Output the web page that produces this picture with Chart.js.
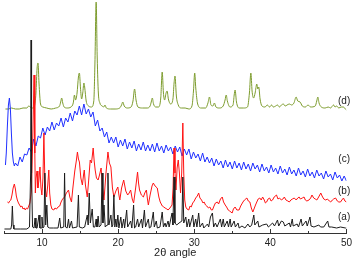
<!DOCTYPE html>
<html>
<head>
<meta charset="utf-8">
<script src="https://cdn.jsdelivr.net/npm/chart.js@4"></script>
<style>
html, body { margin: 0; padding: 0; background: #fff; }
#wrap { width: 356px; height: 260px; position: relative; }
</style>
</head>
<body>
<div id="wrap"><canvas id="xrd"></canvas></div>
<script>
// powder patterns, [2theta (deg), intensity with stacking offset (arb.)]
const traceA = [[5.06,4],[5.9,4],[6.0,8],[6.1,27],[6.2,8],[6.3,4],[7.2,4],[8.0,4],[8.35,6],[8.5,60],[8.56,193],[8.62,60],[8.75,6],[8.95,5],[9.08,15],[9.2,5],[9.35,5],[9.6,18],[9.72,5],[9.9,5],[9.99,16],[10.1,5],[10.25,6],[10.37,60],[10.48,8],[10.63,28],[10.75,6],[11.0,5],[11.5,5],[12.1,5],[12.32,15],[12.45,5],[12.85,6],[12.96,60],[13.08,6],[13.3,5],[13.48,14],[13.6,5],[13.87,12],[14.0,5],[14.6,6],[14.78,38],[14.9,6],[15.3,5],[15.6,6],[15.94,18],[16.06,8],[16.2,40],[16.35,10],[16.59,24],[16.75,6],[16.95,6],[17.11,14],[17.22,6],[17.37,17],[17.5,6],[17.75,8],[17.89,60],[18.0,10],[18.14,28],[18.3,6],[18.55,8],[18.66,60],[18.78,8],[19.05,18],[19.18,6],[19.3,8],[19.44,38],[19.56,6],[19.7,14],[19.82,6],[19.96,18],[20.1,5],[20.35,16],[20.5,5],[20.73,14],[20.85,5],[21.12,23],[21.25,6],[21.64,12],[21.8,5],[22.03,28],[22.15,5],[22.3,6],[22.55,14],[22.7,6],[23.07,14],[23.2,5],[23.45,23],[23.6,6],[23.97,14],[24.1,5],[24.3,6],[24.62,21],[24.75,6],[25.01,12],[25.15,5],[25.5,6],[25.79,21],[25.95,6],[26.17,10],[26.3,6],[26.56,12],[26.7,6],[27.08,20],[27.2,8],[27.34,56],[27.46,10],[27.7,8],[28.0,10],[28.38,12],[28.5,56],[28.62,10],[28.89,16],[29.05,6],[29.28,14],[29.4,6],[29.8,18],[29.95,6],[30.19,14],[30.35,6],[30.58,20],[30.75,6],[31.09,10],[31.25,5],[31.74,9],[31.9,6],[32.13,16],[32.39,20],[32.55,6],[32.78,10],[33.0,6],[33.43,14],[33.6,6],[33.81,14],[33.95,6],[34.33,12],[34.5,6],[34.72,14],[34.85,6],[35.24,12],[35.4,6],[35.76,10],[35.9,5],[36.27,7],[36.66,5],[37.05,9],[37.3,6],[37.55,8],[37.83,18],[37.96,8],[38.35,12],[38.5,6],[38.99,8],[39.51,9],[39.75,6],[40.29,10],[40.55,7],[40.94,13],[41.1,7],[41.45,12],[41.71,11],[41.9,7],[42.49,10],[42.65,6],[42.88,14],[43.0,7],[43.52,9],[43.7,6],[44.04,14],[44.2,7],[44.69,12],[44.85,7],[45.21,16],[45.35,7],[45.73,6],[46.37,8],[46.6,6],[47.02,6],[47.54,12],[47.7,6],[48.06,6],[48.71,5],[49.22,6],[49.87,5],[50,5]];

const traceB = [[5.45,31],[5.6,30],[5.75,32],[5.9,33],[6.05,38],[6.2,45],[6.36,49],[6.5,44],[6.62,37],[6.75,33],[6.9,30],[7.05,28],[7.2,26],[7.35,27],[7.5,24],[7.65,25],[7.8,23],[7.95,25],[8.1,24],[8.25,27],[8.4,30],[8.6,42],[8.8,100],[8.95,158],[9.05,80],[9.12,40],[9.21,55],[9.34,62],[9.45,45],[9.58,52],[9.73,66],[9.85,46],[9.98,38],[10.12,55],[10.24,100],[10.35,60],[10.47,42],[10.6,36],[10.75,48],[10.89,63],[11.0,40],[11.15,28],[11.3,24],[11.54,23],[11.7,25],[11.9,24],[12.1,26],[12.32,27],[12.5,31],[12.7,34],[12.96,36],[13.2,40],[13.48,43],[13.65,36],[13.87,31],[14.05,45],[14.3,62],[14.5,72],[14.65,81],[14.78,74],[14.91,71],[15.1,55],[15.3,48],[15.45,58],[15.55,63],[15.7,48],[15.94,36],[16.1,50],[16.33,73],[16.5,70],[16.72,85],[16.85,72],[16.98,63],[17.15,55],[17.37,53],[17.55,58],[17.76,65],[17.95,45],[18.14,33],[18.4,60],[18.66,81],[18.85,70],[19.05,66],[19.25,45],[19.44,36],[19.7,42],[19.96,46],[20.1,38],[20.22,33],[20.45,45],[20.73,53],[21.0,42],[21.25,38],[21.45,40],[21.64,43],[21.85,34],[22.03,30],[22.3,45],[22.55,61],[22.68,50],[22.81,43],[23.05,38],[23.32,36],[23.5,40],[23.71,43],[23.85,34],[23.97,28],[24.2,38],[24.45,47],[24.62,50],[24.85,47],[25.14,45],[25.35,36],[25.53,31],[25.8,27],[26.0,26],[26.17,25],[26.4,24],[26.56,23],[26.8,25],[27.08,28],[27.22,45],[27.34,85],[27.47,60],[27.6,43],[27.75,65],[27.9,73],[28.05,60],[28.2,40],[28.35,60],[28.5,110],[28.62,60],[28.75,33],[28.89,26],[29.05,24],[29.28,23],[29.45,27],[29.6,26],[29.8,30],[30.0,32],[30.19,35],[30.4,37],[30.58,40],[30.75,35],[30.96,33],[31.15,30],[31.3,31],[31.48,28],[31.65,27],[31.87,25],[32.05,26],[32.25,23],[32.39,23],[32.6,27],[32.78,30],[33.04,31],[33.2,29],[33.45,34],[33.68,36],[33.85,31],[34.07,28],[34.25,26],[34.46,23],[34.65,22],[34.98,20],[35.15,24],[35.37,26],[35.6,23],[35.89,23],[36.1,27],[36.4,31],[36.6,33],[36.92,35],[37.1,32],[37.31,31],[37.5,25],[37.7,21],[37.9,25],[38.05,28],[38.22,31],[38.4,34],[38.61,35],[38.8,33],[38.99,36],[39.2,33],[39.35,30],[39.51,31],[39.7,34],[39.9,35],[40.1,32],[40.29,33],[40.5,36],[40.81,38],[41.0,34],[41.2,35],[41.45,33],[41.65,34],[41.84,36],[42.05,33],[42.3,32],[42.49,31],[42.7,33],[42.9,34],[43.14,35],[43.4,33],[43.6,35],[43.78,36],[43.95,34],[44.2,35],[44.43,36],[44.6,33],[44.8,32],[45.08,33],[45.3,35],[45.47,38],[45.7,35],[45.9,34],[46.11,33],[46.35,36],[46.63,40],[46.8,37],[47.02,34],[47.28,33],[47.5,34],[47.75,32],[47.93,31],[48.15,33],[48.32,34],[48.57,35],[48.8,32],[49.0,31],[49.22,31],[49.4,33],[49.61,35],[49.8,32],[50,31]];

const traceC = [[5.19,68],[5.3,80],[5.45,108],[5.58,128],[5.71,135],[5.84,124],[5.97,100],[6.1,80],[6.23,71],[6.36,67],[6.5,70],[6.8,67],[7.1,76],[7.4,71],[7.7,79],[8.0,78],[8.3,85],[8.6,81],[8.9,94],[9.2,87],[9.5,97],[9.8,95],[10.1,105],[10.4,98],[10.7,106],[11.0,102],[11.3,111],[11.6,103],[11.9,110],[12.2,107],[12.5,115],[12.8,106],[13.1,115],[13.4,111],[13.7,120],[14.0,112],[14.3,122],[14.6,118],[14.9,127],[15.2,118],[15.5,129],[15.8,119],[16.1,124],[16.4,116],[16.7,121],[17.0,107],[17.3,113],[17.6,102],[17.9,105],[18.2,96],[18.5,101],[18.8,90],[19.1,96],[19.4,90],[19.7,96],[20.0,86],[20.3,93],[20.6,87],[20.9,94],[21.2,84],[21.5,91],[21.8,85],[22.1,92],[22.4,82],[22.7,89],[23.0,83],[23.3,91],[23.6,82],[23.9,88],[24.2,82],[24.5,89],[24.8,81],[25.1,90],[25.4,82],[25.7,87],[26.0,80],[26.3,88],[26.6,82],[26.9,86],[27.2,79],[27.5,87],[27.8,81],[28.1,86],[28.4,77],[28.7,84],[29.0,78],[29.3,84],[29.6,74],[29.9,81],[30.2,75],[30.5,79],[30.8,72],[31.1,80],[31.4,71],[31.7,76],[32.0,70],[32.3,75],[32.6,67],[32.9,74],[33.2,68],[33.5,72],[33.8,65],[34.1,73],[34.4,66],[34.7,71],[35.0,64],[35.3,72],[35.6,65],[35.9,70],[36.2,63],[36.5,71],[36.8,64],[37.1,69],[37.4,62],[37.7,70],[38.0,64],[38.3,68],[38.6,61],[38.9,69],[39.2,62],[39.5,66],[39.8,60],[40.1,68],[40.4,61],[40.7,65],[41.0,59],[41.3,67],[41.6,60],[41.9,64],[42.2,58],[42.5,66],[42.8,59],[43.1,63],[43.4,57],[43.7,65],[44.0,58],[44.3,62],[44.6,56],[44.9,64],[45.2,57],[45.5,61],[45.8,55],[46.1,63],[46.4,57],[46.7,60],[47.0,54],[47.3,62],[47.6,56],[47.9,59],[48.2,53],[48.5,61],[48.8,55],[49.1,58],[49.4,52],[49.7,57],[50,52]];

const traceD = [[5.19,124],[5.6,124],[6.0,125],[6.5,124],[7.0,124],[7.5,125],[8.0,125],[8.25,127],[8.45,126],[8.7,125],[9.0,127],[9.2,140],[9.35,165],[9.47,170],[9.6,150],[9.8,129],[10.1,126],[10.6,125],[11.2,124],[11.8,125],[12.3,127],[12.45,131],[12.58,135],[12.72,130],[12.9,126],[13.3,125],[13.8,126],[14.1,130],[14.26,138],[14.4,133],[14.6,140],[14.78,156],[14.91,160],[15.05,145],[15.2,134],[15.35,140],[15.5,150],[15.6,146],[15.8,132],[16.1,127],[16.5,126],[16.8,132],[16.95,170],[17.11,231],[17.25,175],[17.4,140],[17.6,130],[17.9,127],[18.1,126],[18.27,128],[18.45,125],[19.0,124],[19.6,124],[20.2,125],[20.45,128],[20.61,131],[20.8,127],[21.2,125],[21.7,126],[21.95,132],[22.16,144],[22.35,133],[22.6,126],[23.2,125],[23.8,125],[24.2,127],[24.35,131],[24.49,135],[24.65,129],[24.95,126],[25.3,126],[25.6,135],[25.79,161],[25.95,140],[26.1,133],[26.3,140],[26.43,142],[26.6,134],[26.9,129],[27.2,134],[27.35,150],[27.47,157],[27.65,137],[27.9,128],[28.3,125],[28.8,125],[29.3,124],[29.7,127],[29.9,142],[30.06,160],[30.2,145],[30.45,129],[30.9,125],[31.5,125],[31.8,130],[32.0,136],[32.2,128],[32.45,127],[32.65,130],[32.85,126],[33.3,125],[33.8,127],[34.05,133],[34.2,138],[34.35,132],[34.7,126],[35.1,128],[35.25,138],[35.37,143],[35.55,131],[35.9,125],[36.5,125],[37.0,126],[37.25,140],[37.44,160],[37.6,142],[37.8,135],[38.0,140],[38.22,149],[38.35,144],[38.48,146],[38.65,134],[38.9,127],[39.3,126],[39.6,128],[39.9,126],[40.16,128],[40.4,126],[40.7,127],[40.94,128],[41.2,126],[41.45,128],[41.71,129],[41.95,127],[42.2,128],[42.49,129],[42.8,128],[43.1,130],[43.39,136],[43.6,132],[43.91,131],[44.2,127],[44.6,126],[44.95,128],[45.3,126],[45.9,127],[46.1,132],[46.24,136],[46.4,130],[46.7,126],[47.2,125],[47.6,126],[47.93,125],[48.15,127],[48.32,128],[48.5,126],[48.71,127],[49.0,125],[49.3,126],[49.61,126],[49.85,124],[50,123]];

const traceNames = ['(a)', '(b)', '(c)', '(d)'];
const traceColors = ['#1c1c1c', '#ff1414', '#2030ff', '#7d9c2e'];
// where the (a)..(d) tags sit, in [2theta, intensity]
const tagAt = [[49.7, 16], [49.7, 42], [49.7, 74], [49.7, 132]];

const axisDecor = {
  id: 'axisDecor',
  afterDraw(chart) {
    const {ctx, scales: {x, y}} = chart;
    const base = y.getPixelForValue(0);
    ctx.save();
    ctx.strokeStyle = '#333';
    ctx.lineWidth = 1;
    x.ticks.forEach(t => {
      const px = Math.round(x.getPixelForValue(t.value)) + 0.5;
      const len = t.value % 10 === 0 ? 4 : 2;
      ctx.beginPath();
      ctx.moveTo(px, base);
      ctx.lineTo(px, base - len);
      ctx.stroke();
    });
    ctx.fillStyle = '#222';
    ctx.font = '10px "Liberation Sans", Arial';
    ctx.textAlign = 'center';
    ctx.textBaseline = 'middle';
    traceNames.forEach((n, i) => {
      ctx.fillText(n, x.getPixelForValue(tagAt[i][0]), y.getPixelForValue(tagAt[i][1]));
    });
    ctx.restore();
  }
};

const toXY = arr => arr.map(p => ({x: p[0], y: p[1]}));

new Chart(document.getElementById('xrd'), {
  type: 'line',
  data: {
    datasets: [traceA, traceB, traceC, traceD].map((t, i) => ({
      label: traceNames[i],
      data: toXY(t),
      borderColor: traceColors[i],
      borderWidth: 1,
      pointRadius: 0,
      fill: false,
      tension: 0,
      cubicInterpolationMode: i === 3 ? 'monotone' : 'default'
    }))
  },
  options: {
    responsive: true,
    maintainAspectRatio: false,
    animation: false,
    layout: { padding: { left: 2, right: 7, top: 0, bottom: 0 } },
    plugins: { legend: { display: false }, tooltip: { enabled: false } },
    scales: {
      x: {
        type: 'linear',
        min: 5,
        max: 50,
        grid: { display: false, drawTicks: false },
        border: { display: true, color: '#333', width: 1 },
        ticks: {
          stepSize: 5,
          padding: 4,
          autoSkip: false,
          maxRotation: 0,
          color: '#222',
          font: { family: '"Liberation Sans", Arial', size: 10 },
          callback: v => (v % 10 === 0 ? v : '')
        },
        title: {
          display: true,
          text: '2θ angle',
          color: '#222',
          padding: 0,
          font: { family: '"Liberation Sans", Arial', size: 11 }
        },
        afterFit: s => { s.height = 27; }
      },
      y: { display: false, min: 0, max: 233 }
    }
  },
  plugins: [axisDecor]
});
</script>
</body>
</html>
